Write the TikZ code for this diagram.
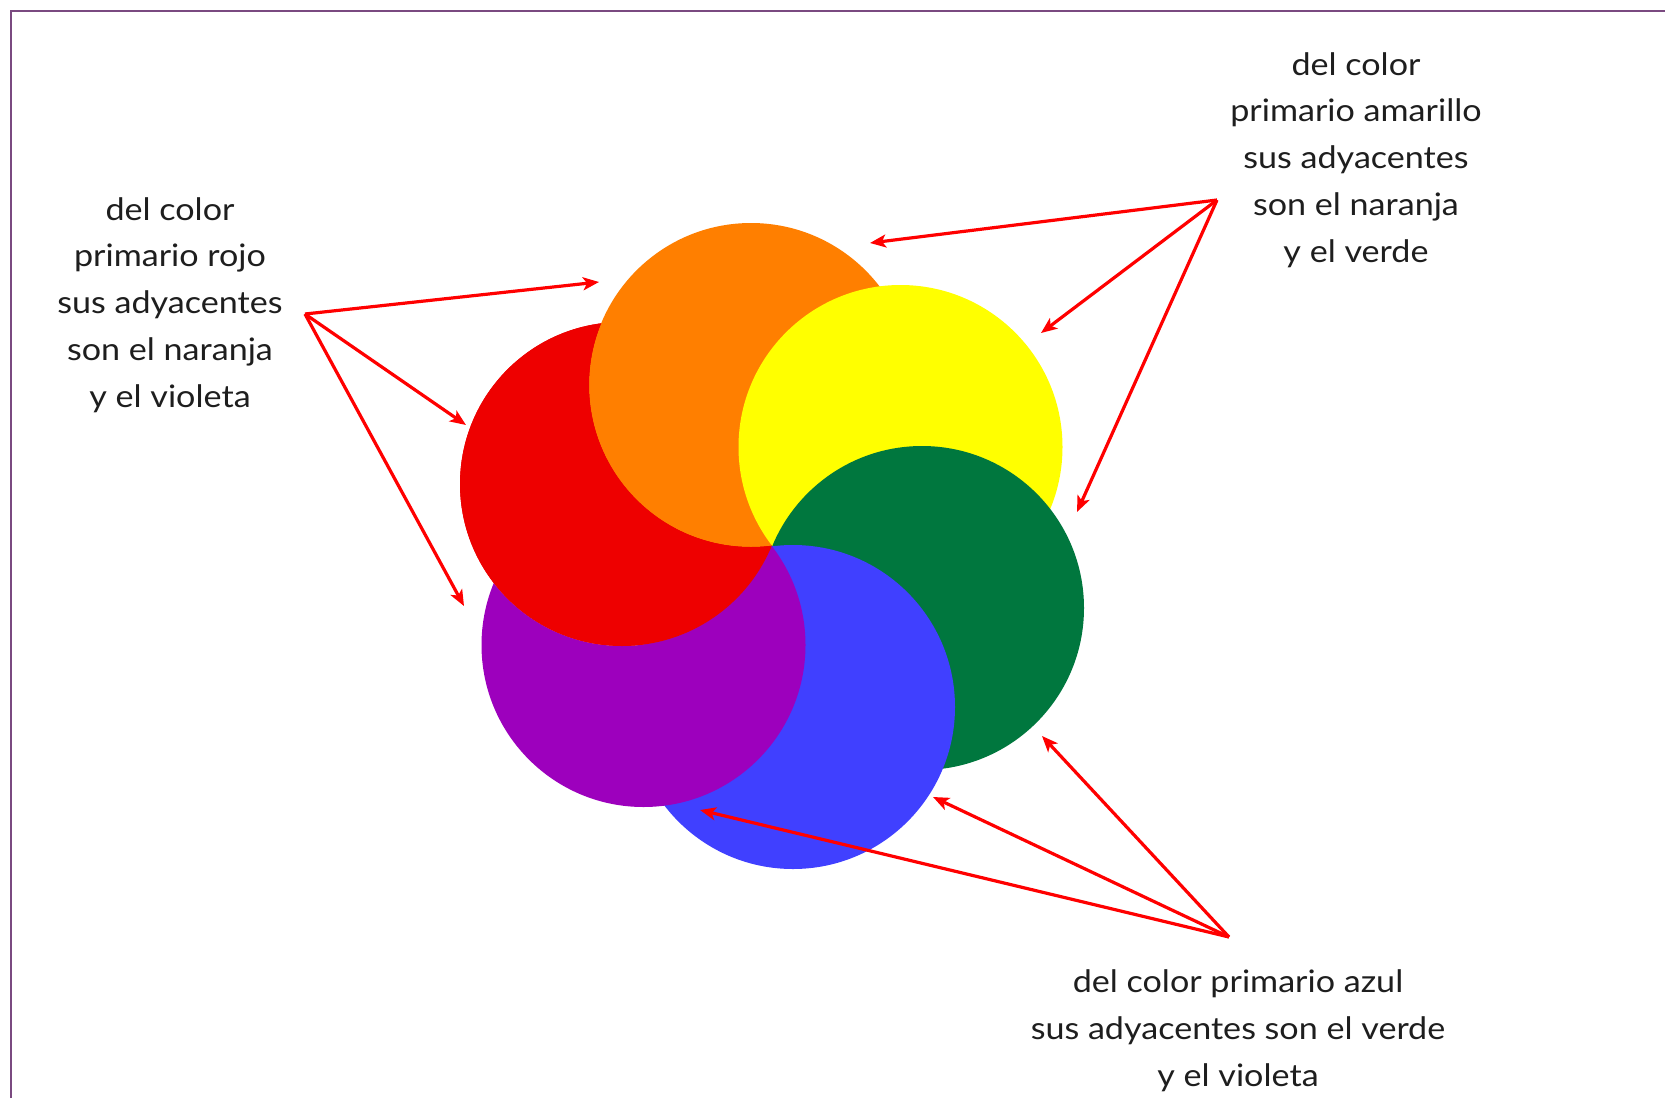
\documentclass[tikz,border=0pt]{standalone}
\usepackage{fontspec}
\setmainfont[FakeStretch=1.1]{Lato}
\usetikzlibrary{arrows.meta}
\definecolor{cRed}{RGB}{238,0,0}
\definecolor{cOrange}{RGB}{255,127,0}
\definecolor{cYellow}{RGB}{255,255,0}
\definecolor{cGreen}{RGB}{0,119,62}
\definecolor{cBlue}{RGB}{64,64,255}
\definecolor{cViolet}{RGB}{157,0,189}
\definecolor{arrowred}{RGB}{255,0,0}
\definecolor{framec}{RGB}{122,74,128}
\definecolor{textc}{RGB}{30,30,30}
\begin{document}
\begin{tikzpicture}[x=0.5pt,y=-0.5pt,
  arr/.style={draw=arrowred, line width=1.6pt, -{Stealth[length=8pt,width=6.5pt,inset=2pt]}},
  lbl/.style={align=center, font=\fontsize{15.5}{23.4}\selectfont, text=textc, inner sep=0pt}]
\useasboundingbox (0,0) rectangle (1665,1098);
\fill[white] (0,0) rectangle (1665,1098);
\draw[framec, line width=1pt] (11,1098) -- (11,11) -- (1665,11);

% circle centres (all circles pass through the pinwheel centre)
\coordinate (cR) at (622,484);
\coordinate (cO) at (751,385);
\coordinate (cY) at (900.5,447);
\coordinate (cG) at (922,608);
\coordinate (cB) at (793,707);
\coordinate (cV) at (643.5,645);
\def\rad{162}

\fill[cRed]    (cR) circle[radius=\rad];
\fill[cOrange] (cO) circle[radius=\rad];
\fill[cYellow] (cY) circle[radius=\rad];
\fill[cGreen]  (cG) circle[radius=\rad];
\fill[cBlue]   (cB) circle[radius=\rad];
% violet lies over blue but under red
\begin{scope}[even odd rule]
  \clip (0,0) rectangle (1665,1098) (cR) circle[radius=\rad];
  \fill[cViolet] (cV) circle[radius=\rad];
\end{scope}
% red lies over everything except orange
\begin{scope}[even odd rule]
  \clip (0,0) rectangle (1665,1098) (cO) circle[radius=\rad];
  \fill[cRed] (cR) circle[radius=\rad];
\end{scope}

% labels
\node[lbl] (rojo) at (170,305) {del color\\primario rojo\\sus adyacentes\\son el naranja\\y el violeta};
\node[lbl] (amarillo) at (1356,160) {del color\\primario amarillo\\sus adyacentes\\son el naranja\\y el verde};
\node[lbl] (azul) at (1238,1031) {del color primario azul\\sus adyacentes son el verde\\y el violeta};

% arrow junctions and tips
\coordinate (ls) at (305,314);
\coordinate (lt1) at (599,282);
\coordinate (lt2) at (466,425);
\coordinate (lt3) at (464,606);
\coordinate (ts) at (1217,200);
\coordinate (tt1) at (870,243);
\coordinate (tt2) at (1041,333);
\coordinate (tt3) at (1077,512);
\coordinate (bs) at (1229,937);
\coordinate (bt1) at (700,810);
\coordinate (bt2) at (933,797);
\coordinate (bt3) at (1042,736);

\foreach \s/\t in {ls/lt1,ls/lt2,ls/lt3,ts/tt1,ts/tt2,ts/tt3,bs/bt1,bs/bt2,bs/bt3}
  \draw[arr] (\s) -- (\t);
\end{tikzpicture}
\end{document}
